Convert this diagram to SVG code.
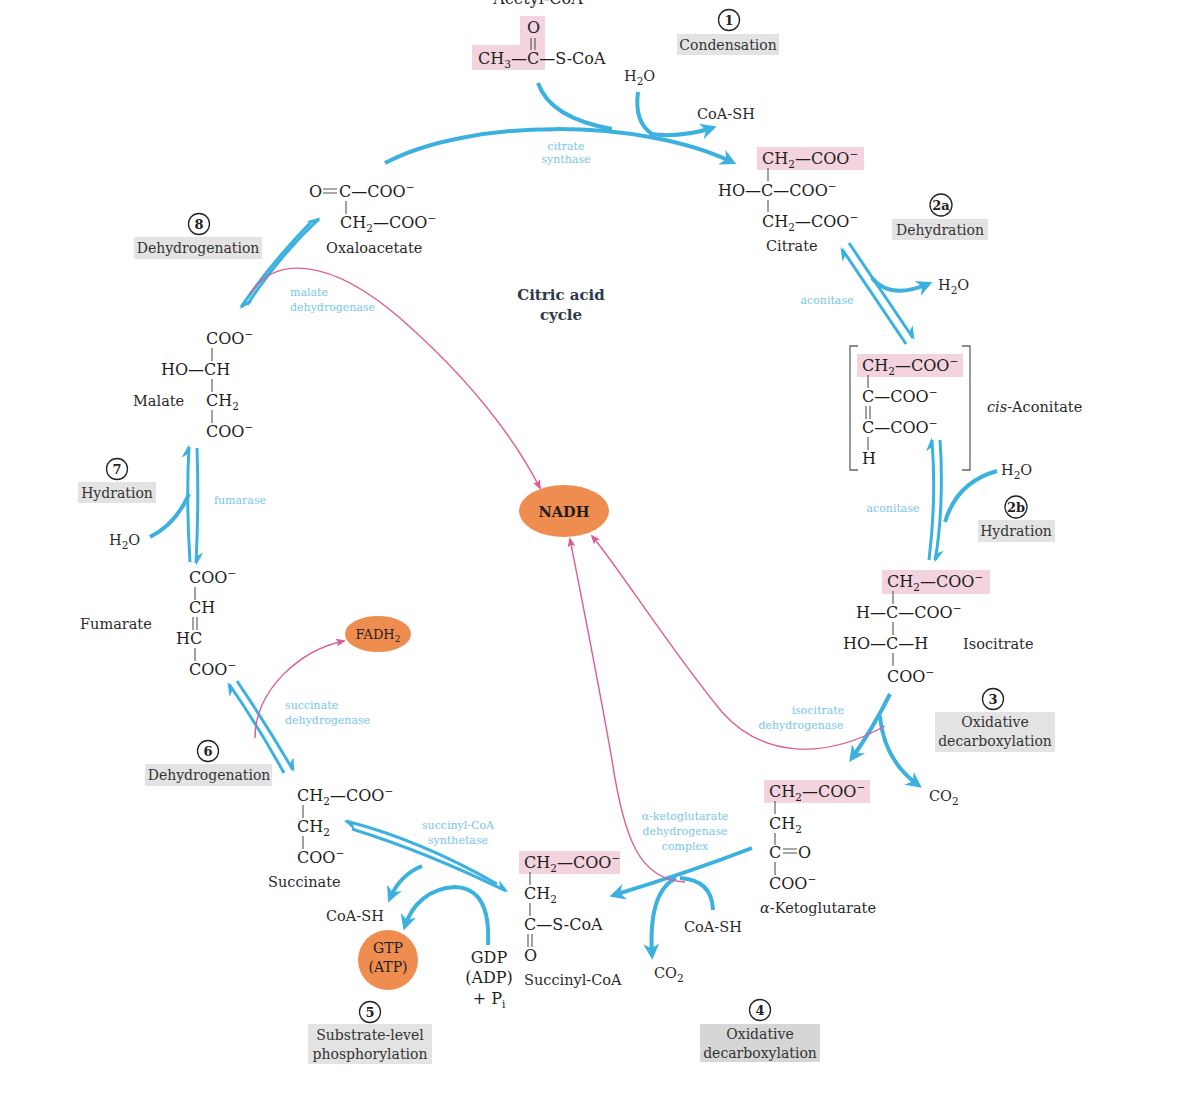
<svg xmlns="http://www.w3.org/2000/svg" width="1186" height="1102" viewBox="0 0 1186 1102">
<style>
text{font-family:"DejaVu Serif","Liberation Serif",serif;fill:#1e1e1e}
.c{font-size:16px}
.lbl{font-size:14.5px;fill:#2a2a2a}
.step{font-size:14px;fill:#333;text-anchor:middle}
.enz{font-size:11px;fill:#78c6e6;text-anchor:middle}
.enzl{font-size:11px;fill:#78c6e6}
.num{font-size:13px;font-weight:bold;text-anchor:middle;fill:#222}
.sb{font-size:10.5px;baseline-shift:-4px}
.sp{font-size:10.5px;baseline-shift:6px}
.title{font-size:15px;font-weight:bold;fill:#2d3a4a;text-anchor:middle}
.hl{fill:#f2d3de}
.gb{fill:#e3e3e3}
.circ{fill:#fff;stroke:#222;stroke-width:1.3}
.bond{stroke:#555;stroke-width:1.1;fill:none}
.bl{stroke:#3cb1e0;stroke-width:4;fill:none;stroke-linecap:butt}
.bl2{stroke:#3cb1e0;stroke-width:3;fill:none}
.pk{stroke:#dc5d93;stroke-width:1.4;fill:none}
.orb{fill:#ef8d50}
.br{stroke:#666;stroke-width:1.3;fill:none}
</style>
<defs>
<marker id="ah" viewBox="0 0 10 10" refX="7" refY="5" markerWidth="4" markerHeight="4" orient="auto" markerUnits="strokeWidth">
<path d="M0,0 L10,5 L0,10 L3,5 z" fill="#3cb1e0"/>
</marker>
<marker id="hb" viewBox="0 0 10 10" refX="8" refY="5" markerWidth="4.5" markerHeight="4.5" orient="auto" markerUnits="strokeWidth">
<path d="M0,0 L10,5 L3,5 z" fill="#3cb1e0"/>
</marker>
<marker id="pa" viewBox="0 0 10 10" refX="8" refY="5" markerWidth="7" markerHeight="7" orient="auto" markerUnits="strokeWidth">
<path d="M0,1 L10,5 L0,9 L2,5 z" fill="#dc5d93"/>
</marker>
</defs>

<g id="connectors">
<path class="bl" d="M385,163 C 470,118 640,118 732,162" marker-end="url(#ah)"/>
<path class="bl" d="M538,83 Q 550,118 612,129"/>
<path class="bl" d="M638,92 Q 634,122 652,134"/>
<path class="bl" d="M650,134 Q 680,138 712,128" marker-end="url(#ah)"/>
<path class="bl2" d="M849,243 L913,338" marker-end="url(#hb)"/>
<path class="bl2" d="M906,344 L842,249" marker-end="url(#hb)"/>
<path class="bl" d="M872,278 Q 890,300 928,284" marker-end="url(#ah)"/>
<path class="bl2" d="M940,440 C 943,480 941,530 935,560" marker-end="url(#hb)"/>
<path class="bl2" d="M929,560 C 934,520 935,480 932,440" marker-end="url(#hb)"/>
<path class="bl" d="M997,471 Q 957,482 945,522"/>
<path class="bl" d="M890,694 Q 872,730 852,758" marker-end="url(#ah)"/>
<path class="bl" d="M880,716 Q 884,760 918,785" marker-end="url(#ah)"/>
<path class="bl" d="M752,848 Q 690,872 614,895" marker-end="url(#ah)"/>
<path class="bl" d="M713,910 Q 712,880 680,878"/>
<path class="bl" d="M676,878 Q 648,892 652,955" marker-end="url(#ah)"/>
<path class="bl2" d="M497,884 Q 420,840 346,821" marker-end="url(#hb)"/>
<path class="bl2" d="M352,829 Q 426,852 506,891" marker-end="url(#hb)"/>
<path class="bl" d="M422,866 Q 400,875 390,898" marker-end="url(#ah)"/>
<path class="bl" d="M488,945 C 490,905 478,888 455,887 C 430,888 412,904 405,926" marker-end="url(#ah)"/>
<path class="bl2" d="M284,773 Q 258,726 229,684" marker-end="url(#hb)"/>
<path class="bl2" d="M237,681 Q 266,724 293,770" marker-end="url(#hb)"/>
<path class="bl2" d="M190,562 Q 186,500 189,447" marker-end="url(#hb)"/>
<path class="bl2" d="M197,448 Q 199,505 196,563" marker-end="url(#hb)"/>
<path class="bl" d="M150,537 Q 176,524 189,494"/>
<path class="bl2" d="M247,305 Q 280,255 319,219" marker-end="url(#hb)"/>
<path class="bl2" d="M311,222 Q 272,262 241,307" marker-end="url(#hb)"/>
<path class="pk" d="M250,294 C 275,255 330,258 400,318 C 450,362 505,420 540,488" marker-end="url(#pa)"/>
<path class="pk" d="M255,738 C 255,690 300,650 344,641" marker-end="url(#pa)"/>
<path class="pk" d="M885,726 C 820,762 760,755 722,712 C 672,652 622,572 592,536" marker-end="url(#pa)"/>
<path class="pk" d="M685,882 C 640,880 624,840 612,760 C 598,680 582,600 570,539" marker-end="url(#pa)"/>
</g>

<g id="title">
<text class="title" x="561" y="300">Citric acid</text>
<text class="title" x="561" y="320">cycle</text>
</g>

<g id="acetylcoa">
<text class="c" x="538" y="4" text-anchor="middle">Acetyl-CoA</text>
<path class="hl" d="M520,16 H545 V70 H472 V45 H520 z"/>
<text class="c" x="527" y="33">O</text>
<path class="bond" d="M531,38 V50 M535,38 V50"/>
<text class="c" x="478" y="64">CH<tspan class="sb">3</tspan>—C—S-CoA</text>
</g>

<g id="step1">
<circle class="circ" cx="729" cy="20" r="10.5"/>
<text class="num" x="729" y="25">1</text>
<rect class="gb" x="677" y="34" width="102" height="21"/>
<text class="step" x="728" y="50">Condensation</text>
<text class="lbl" x="624" y="81">H<tspan class="sb">2</tspan>O</text>
<text class="lbl" x="697" y="119">CoA-SH</text>
<text class="enz" x="566" y="150">citrate</text>
<text class="enz" x="566" y="163">synthase</text>
</g>

<g id="citrate">
<rect class="hl" x="757" y="147" width="107" height="23"/>
<text class="c" x="762" y="164">CH<tspan class="sb">2</tspan>—COO<tspan class="sp">−</tspan></text>
<path class="bond" d="M768,168 V181 M768,200 V212"/>
<text class="c" x="718" y="196">HO—C—COO<tspan class="sp">−</tspan></text>
<text class="c" x="762" y="227">CH<tspan class="sb">2</tspan>—COO<tspan class="sp">−</tspan></text>
<text class="lbl" x="766" y="251">Citrate</text>
</g>

<g id="step2a">
<circle class="circ" cx="941" cy="205" r="11"/>
<text class="num" x="941" y="210">2a</text>
<rect class="gb" x="892" y="219" width="96" height="21"/>
<text class="step" x="940" y="235">Dehydration</text>
<text class="lbl" x="938" y="290">H<tspan class="sb">2</tspan>O</text>
<text class="enz" x="827" y="304">aconitase</text>
</g>

<g id="cisaconitate">
<path class="br" d="M858,346 H850 V470 H858 M962,346 H970 V470 H962"/>
<rect class="hl" x="857" y="354" width="106" height="23"/>
<text class="c" x="862" y="371">CH<tspan class="sb">2</tspan>—COO<tspan class="sp">−</tspan></text>
<path class="bond" d="M868,375 V388 M866,406 V419 M870,406 V419 M868,437 V450"/>
<text class="c" x="862" y="402">C—COO<tspan class="sp">−</tspan></text>
<text class="c" x="862" y="433">C—COO<tspan class="sp">−</tspan></text>
<text class="c" x="862" y="464">H</text>
<text class="lbl" x="987" y="412"><tspan font-style="italic">cis</tspan>-Aconitate</text>
</g>

<g id="step2b">
<text class="lbl" x="1001" y="475">H<tspan class="sb">2</tspan>O</text>
<circle class="circ" cx="1016" cy="507" r="11"/>
<text class="num" x="1016" y="512">2b</text>
<rect class="gb" x="978" y="520" width="77" height="22"/>
<text class="step" x="1016" y="536">Hydration</text>
<text class="enz" x="893" y="512">aconitase</text>
</g>

<g id="isocitrate">
<rect class="hl" x="882" y="570" width="108" height="24"/>
<text class="c" x="887" y="587">CH<tspan class="sb">2</tspan>—COO<tspan class="sp">−</tspan></text>
<path class="bond" d="M893,591 V604 M893,622 V635 M893,653 V666"/>
<text class="c" x="856" y="618">H—C—COO<tspan class="sp">−</tspan></text>
<text class="c" x="843" y="649">HO—C—H</text>
<text class="c" x="887" y="682">COO<tspan class="sp">−</tspan></text>
<text class="lbl" x="963" y="649">Isocitrate</text>
</g>

<g id="step3">
<circle class="circ" cx="993" cy="699" r="10.5"/>
<text class="num" x="993" y="704">3</text>
<rect class="gb" x="935" y="712" width="120" height="40"/>
<text class="step" x="995" y="727">Oxidative</text>
<text class="step" x="995" y="746">decarboxylation</text>
<text class="enz" x="818" y="714">isocitrate</text>
<text class="enz" x="801" y="729">dehydrogenase</text>
<text class="lbl" x="929" y="801">CO<tspan class="sb">2</tspan></text>
</g>

<g id="nadh">
<ellipse class="orb" cx="564" cy="511" rx="45" ry="26"/>
<text x="564" y="517" text-anchor="middle" font-size="14.5" font-weight="bold" fill="#4a2a1a">NADH</text>
</g>

<g id="akg">
<rect class="hl" x="764" y="780" width="106" height="23"/>
<text class="c" x="769" y="797">CH<tspan class="sb">2</tspan>—COO<tspan class="sp">−</tspan></text>
<path class="bond" d="M775,801 V814 M775,833 V845 M775,862 V875 M783,849 H797 M783,853 H797"/>
<text class="c" x="769" y="829">CH<tspan class="sb">2</tspan></text>
<text class="c" x="769" y="858">C</text>
<text class="c" x="798" y="858">O</text>
<text class="c" x="769" y="889">COO<tspan class="sp">−</tspan></text>
<text class="lbl" x="760" y="913"><tspan font-style="italic">α</tspan>-Ketoglutarate</text>
</g>

<g id="step4">
<text class="enz" x="685" y="820">α-ketoglutarate</text>
<text class="enz" x="685" y="835">dehydrogenase</text>
<text class="enz" x="685" y="850">complex</text>
<text class="lbl" x="684" y="932">CoA-SH</text>
<text class="lbl" x="654" y="978">CO<tspan class="sb">2</tspan></text>
<circle class="circ" cx="760" cy="1010" r="10.5"/>
<text class="num" x="760" y="1015">4</text>
<rect x="700" y="1024" width="120" height="38" fill="#d6d6d6"/>
<text class="step" x="760" y="1039">Oxidative</text>
<text class="step" x="760" y="1058">decarboxylation</text>
</g>

<g id="succinylcoa">
<rect class="hl" x="519" y="851" width="101" height="23"/>
<text class="c" x="524" y="868">CH<tspan class="sb">2</tspan>—COO<tspan class="sp">−</tspan></text>
<path class="bond" d="M530,872 V885 M530,903 V916 M528,934 V947 M532,934 V947"/>
<text class="c" x="524" y="899">CH<tspan class="sb">2</tspan></text>
<text class="c" x="524" y="930">C—S-CoA</text>
<text class="c" x="524" y="961">O</text>
<text class="lbl" x="524" y="985">Succinyl-CoA</text>
</g>

<g id="step5">
<text class="enz" x="458" y="829">succinyl-CoA</text>
<text class="enz" x="458" y="844">synthetase</text>
<text class="lbl" x="326" y="921">CoA-SH</text>
<circle class="orb" cx="388" cy="960" r="30"/>
<text x="388" y="953" text-anchor="middle" font-size="14" fill="#4a2a1a">GTP</text>
<text x="388" y="972" text-anchor="middle" font-size="14" fill="#4a2a1a">(ATP)</text>
<text class="c" x="489" y="963" text-anchor="middle">GDP</text>
<text class="c" x="489" y="983" text-anchor="middle">(ADP)</text>
<text class="c" x="489" y="1004" text-anchor="middle">+ P<tspan class="sb">i</tspan></text>
<circle class="circ" cx="370" cy="1012" r="10.5"/>
<text class="num" x="370" y="1017">5</text>
<rect class="gb" x="308" y="1024" width="124" height="40"/>
<text class="step" x="370" y="1040">Substrate-level</text>
<text class="step" x="370" y="1059">phosphorylation</text>
</g>

<g id="succinate">
<text class="c" x="297" y="801">CH<tspan class="sb">2</tspan>—COO<tspan class="sp">−</tspan></text>
<path class="bond" d="M303,805 V818 M303,836 V849"/>
<text class="c" x="297" y="832">CH<tspan class="sb">2</tspan></text>
<text class="c" x="297" y="863">COO<tspan class="sp">−</tspan></text>
<text class="lbl" x="268" y="887">Succinate</text>
</g>

<g id="step6">
<circle class="circ" cx="208" cy="751" r="10.5"/>
<text class="num" x="208" y="756">6</text>
<rect class="gb" x="145" y="764" width="127" height="22"/>
<text class="step" x="209" y="780">Dehydrogenation</text>
<text class="enzl" x="285" y="709">succinate</text>
<text class="enzl" x="285" y="724">dehydrogenase</text>
</g>

<g id="fadh2">
<ellipse class="orb" cx="378" cy="634" rx="33" ry="18"/>
<text x="378" y="639" text-anchor="middle" font-size="13" fill="#4a2a1a">FADH<tspan font-size="9" baseline-shift="-3px">2</tspan></text>
</g>

<g id="fumarate">
<text class="c" x="189" y="583">COO<tspan class="sp">−</tspan></text>
<path class="bond" d="M195,587 V600 M193,617 V630 M197,617 V630 M195,648 V661"/>
<text class="c" x="189" y="613">CH</text>
<text class="c" x="176" y="644">HC</text>
<text class="c" x="189" y="675">COO<tspan class="sp">−</tspan></text>
<text class="lbl" x="80" y="629">Fumarate</text>
</g>

<g id="step7">
<circle class="circ" cx="117" cy="469" r="10.5"/>
<text class="num" x="117" y="474">7</text>
<rect class="gb" x="78" y="482" width="78" height="21"/>
<text class="step" x="117" y="498">Hydration</text>
<text class="lbl" x="109" y="545">H<tspan class="sb">2</tspan>O</text>
<text class="enz" x="240" y="504">fumarase</text>
</g>

<g id="malate">
<text class="c" x="206" y="344">COO<tspan class="sp">−</tspan></text>
<path class="bond" d="M212,348 V361 M212,379 V392 M212,410 V423"/>
<text class="c" x="161" y="375">HO—CH</text>
<text class="c" x="206" y="406">CH<tspan class="sb">2</tspan></text>
<text class="c" x="206" y="437">COO<tspan class="sp">−</tspan></text>
<text class="lbl" x="133" y="406">Malate</text>
</g>

<g id="step8">
<circle class="circ" cx="199" cy="224" r="10.5"/>
<text class="num" x="199" y="229">8</text>
<rect class="gb" x="134" y="237" width="128" height="22"/>
<text class="step" x="198" y="253">Dehydrogenation</text>
<text class="enzl" x="290" y="296">malate</text>
<text class="enzl" x="290" y="311">dehydrogenase</text>
</g>

<g id="oxaloacetate">
<text class="c" x="309" y="197">O</text>
<path class="bond" d="M323,189 H337 M323,193 H337 M346,201 V214"/>
<text class="c" x="339" y="197">C—COO<tspan class="sp">−</tspan></text>
<text class="c" x="340" y="228">CH<tspan class="sb">2</tspan>—COO<tspan class="sp">−</tspan></text>
<text class="lbl" x="326" y="253">Oxaloacetate</text>
</g>
</svg>
